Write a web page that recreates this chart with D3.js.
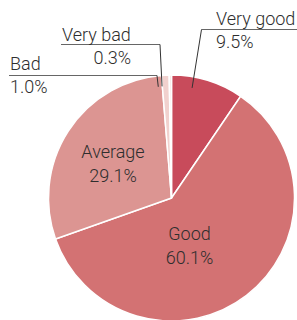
<!DOCTYPE html>
<html>
<head>
<meta charset="utf-8">
<script src="https://cdn.jsdelivr.net/npm/d3@7"></script>
<style>
  body { margin: 0; background: #fff; }
  text { font-family: Roboto, "Liberation Sans", Arial, sans-serif; font-weight: 300; font-size: 18px; fill: #2e2e2e; }
</style>
</head>
<body>
<div id="chart"></div>
<script>
var categories = ["Very good", "Good", "Average", "Bad", "Very bad"];
var shares = [9.5, 60.1, 29.1, 1.0, 0.3];
var colors = ["#c84b5b", "#d37273", "#dc9592", "#f1d1ce", "#f8e4e2"];

var width = 297, height = 320;
var cx = 171.5, cy = 198, radius = 123;

// label layout (not data): inside labels are offset from centre,
// outside labels have text spots, a rule and a leader into the slice
var layout = {
  "Very good": {out: true, x: 216, y: 25, anchor2: "start", x2: 216, ruleY: 29.5, ruleFrom: 201.5, ruleTo: 297, shift: -6.5},
  "Very bad":  {out: true, x: 62, y: 40.5, anchor2: "end", x2: 131, ruleY: 44.5, ruleFrom: 61, ruleTo: 160, shift: -4.3},
  "Bad":       {out: true, x: 10, y: 70, anchor2: "start", x2: 10, ruleY: 75.5, ruleFrom: 9, ruleTo: 157, shift: -3.9},
  "Good":      {out: false, dx: 18, dy: 42},
  "Average":   {out: false, dx: -58.5, dy: -40}
};

var data = categories.map(function(c, i){ return {name: c, value: shares[i], color: colors[i]}; });

var svg = d3.select("#chart").append("svg")
  .attr("width", width)
  .attr("height", height);

var pie = d3.pie().sort(null).value(function(d){ return d.value; });
var arc = d3.arc().innerRadius(0).outerRadius(radius);

var g = svg.append("g").attr("transform", "translate(" + cx + "," + cy + ")");

var arcs = pie(data);

g.selectAll("path").data(arcs).enter().append("path")
  .attr("d", arc)
  .attr("fill", function(d){ return d.data.color; })
  .attr("stroke", "#fff")
  .attr("stroke-width", 1.5);

arcs.forEach(function(d){
  var L = layout[d.data.name];
  var pct = d.data.value.toFixed(1) + "%";
  if (!L.out) {
    var t = svg.append("text")
      .attr("text-anchor", "middle")
      .attr("x", cx + L.dx)
      .attr("y", cy + L.dy);
    t.append("tspan").attr("x", cx + L.dx).text(d.data.name);
    t.append("tspan").attr("x", cx + L.dx).attr("dy", 23.5).text(pct);
    return;
  }
  var mid = (d.startAngle + d.endAngle) / 2 + L.shift * Math.PI / 180;
  var r2 = radius - 11;
  var ex = cx + r2 * Math.sin(mid), ey = cy - r2 * Math.cos(mid);
  var elbowX = L.ruleFrom > 150 ? L.ruleFrom : L.ruleTo;
  svg.append("polyline")
    .attr("points", [[L.ruleFrom, L.ruleY], [L.ruleTo, L.ruleY]].join(" "))
    .attr("fill", "none").attr("stroke", "#666").attr("stroke-width", 1);
  svg.append("line")
    .attr("x1", elbowX).attr("y1", L.ruleY)
    .attr("x2", ex).attr("y2", ey)
    .attr("stroke", "#333").attr("stroke-width", 1);
  svg.append("text").attr("x", L.x).attr("y", L.y).text(d.data.name);
  svg.append("text").attr("x", L.x2).attr("y", L.y + 23)
    .attr("text-anchor", L.anchor2).text(pct);
});
</script>
</body>
</html>
